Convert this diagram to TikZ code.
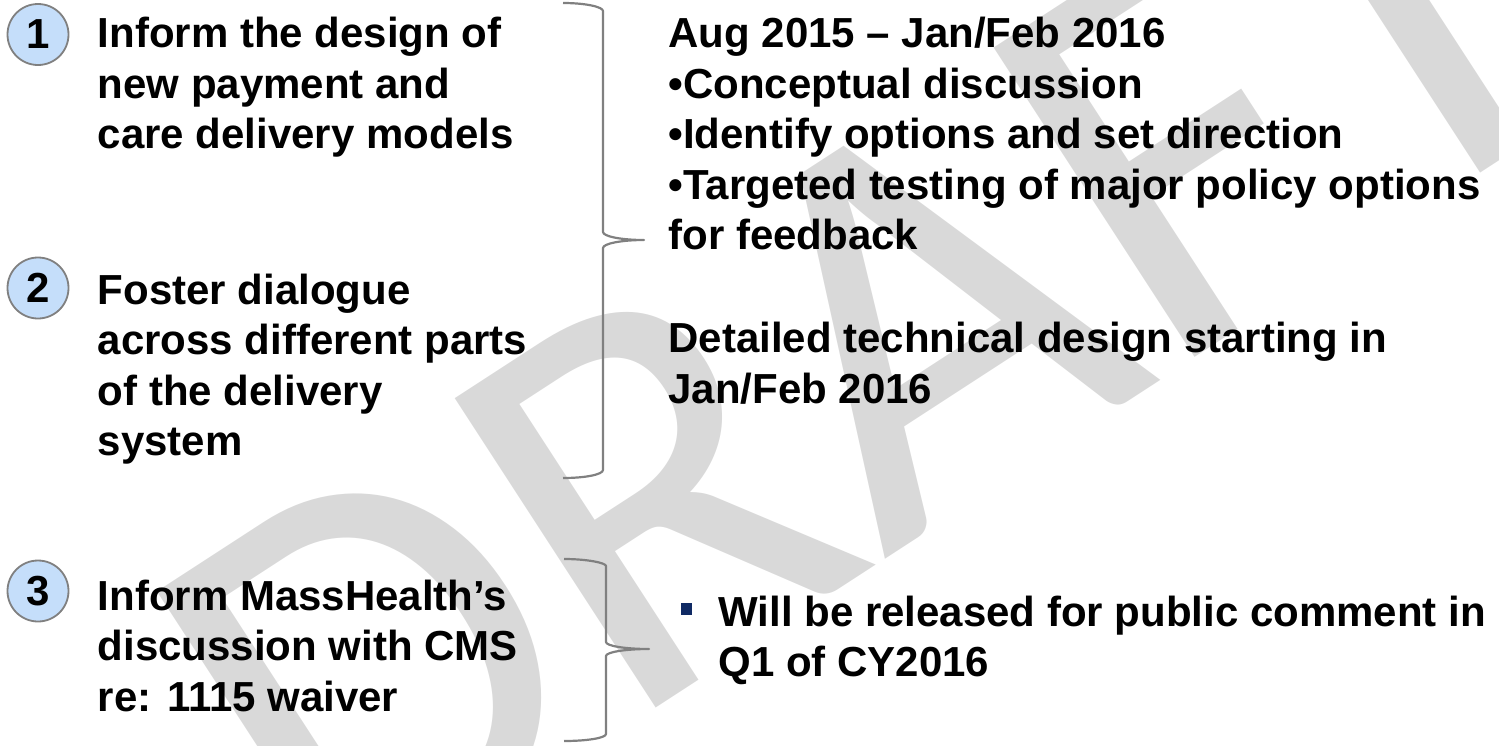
\documentclass[tikz,border=0pt]{standalone}
\usepackage{fontspec}
\setmainfont{Liberation Sans}
\newfontfamily\wmfont{Carlito}
\definecolor{circfill}{RGB}{197,222,250}
\definecolor{linegray}{RGB}{128,128,128}
\definecolor{wmgray}{RGB}{217,217,217}
\definecolor{navy}{RGB}{16,42,100}
\begin{document}
\begin{tikzpicture}[x=0.5pt,y=-0.5pt,
  txt/.style={anchor=north west, inner sep=0pt, align=left,
    font=\bfseries\fontsize{21}{25.25}\selectfont},
  numcirc/.style={circle, draw=linegray, line width=0.9pt, fill=circfill,
    minimum size=30.5pt, inner sep=0pt, font=\bfseries\fontsize{21}{25}\selectfont},
  bracepath/.style={draw=linegray, line width=1.1pt, line join=round},
]
\useasboundingbox (0,0) rectangle (1499,745);

% watermark
\begin{scope}
  \clip (0,0) rectangle (1499,745);
  \node[anchor=base west, rotate=33, inner sep=0pt, text=wmgray,
        font=\wmfont\fontsize{287.5}{287.5}\selectfont] (wm) at (325,923) {DRAFT};
\end{scope}

% numbered markers
\node[numcirc] (c1) at (38,34.5) {1};
\node[numcirc] (c2) at (38,288) {2};
\node[numcirc] (c3) at (38,591) {3};

% goals
\node[txt] (g1) at (97.5,12.15) {\strut Inform the design of\\\strut new payment and\\\strut care delivery models};
\node[txt] (g2) at (97.5,268.65) {\strut Foster dialogue\\\strut across different parts\\\strut of the delivery\\\strut system};
\node[txt] (g3) at (97.5,574.65) {\strut Inform MassHealth’s\\\strut discussion with CMS\\\strut re: 1115 waiver};

% braces
\draw[bracepath] (563,3) .. controls (585.6,3) and (603,6.9) .. (603,11)
  -- (603,232) .. controls (603,236.4) and (621.4,240) .. (644,240)
  .. controls (621.4,240) and (603,243.6) .. (603,248)
  -- (603,470) .. controls (603,474.4) and (585.6,478) .. (563,478);
\draw[bracepath] (564,559) .. controls (587.2,559) and (606,562.9) .. (606,566)
  -- (606,642) .. controls (606,645.9) and (625.3,649) .. (649,649)
  .. controls (625.3,649) and (606,652.1) .. (606,656)
  -- (606,734) .. controls (606,737.9) and (587.2,741) .. (564,741);

% timeline
\node[txt] (t1) at (668,12.15) {\strut Aug 2015 – Jan/Feb 2016\\\strut •Conceptual discussion\\\strut •Identify options and set direction\\\strut •Targeted testing of major policy options\\\strut for feedback};
\node[txt] (t2) at (668,317.15) {\strut Detailed technical design starting in\\\strut Jan/Feb 2016};

% waiver note
\fill[navy] (680.5,603) rectangle (692,615);
\node[txt] (w1) at (718,590.65) {\strut Will be released for public comment in\\\strut Q1 of CY2016};
\end{tikzpicture}
\end{document}
